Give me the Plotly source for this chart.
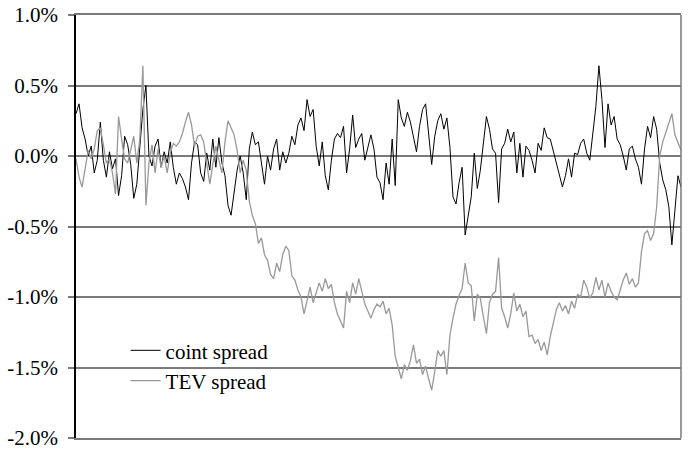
import plotly.graph_objects as go

# y-axis ticks (percent)
tick_values = [-2.0, -1.5, -1.0, -0.5, 0.0, 0.5, 1.0]
tick_labels = ["-2.0%", "-1.5%", "-1.0%", "-0.5%", "0.0%", "0.5%", "1.0%"]

# coint spread (%), left to right
coint_spread = [
    0.30, 0.37, 0.20, 0.12, 0.00, 0.07, -0.12, -0.03, 0.24, -0.03,
    -0.15, 0.03, -0.09, -0.02, -0.28, -0.14, 0.14, 0.08, -0.06, -0.30,
    -0.20, 0.05, 0.33, 0.50, 0.00, -0.07, 0.07, 0.12, -0.08, 0.03,
    -0.05, 0.10, -0.08, -0.20, -0.12, -0.16, -0.22, -0.31, -0.05, 0.10,
    0.08, -0.12, -0.18, 0.02, -0.10, 0.12, -0.08, 0.13, -0.05, -0.14,
    -0.35, -0.42, -0.26, -0.10, 0.00, -0.12, -0.31, 0.05, 0.17, 0.08,
    0.10, -0.05, -0.20, 0.00, -0.10, 0.05, 0.12, -0.10, 0.03, -0.05,
    0.02, 0.14, 0.08, 0.22, 0.27, 0.18, 0.40, 0.28, 0.33, 0.07,
    -0.07, 0.10, -0.14, -0.24, -0.03, 0.12, 0.16, 0.13, 0.21, -0.12,
    0.05, 0.29, 0.06, 0.12, 0.16, -0.03, 0.07, 0.15, 0.05, -0.15,
    -0.19, -0.31, -0.05, -0.20, 0.12, -0.21, 0.40, 0.27, 0.21, 0.31,
    0.24, 0.12, 0.03, 0.21, 0.33, 0.37, 0.16, -0.06, 0.14, 0.25,
    0.30, 0.19, 0.27, 0.06, -0.29, -0.34, -0.19, -0.08, -0.56, -0.44,
    -0.29, 0.02, -0.23, -0.10, 0.07, 0.28, 0.19, 0.05, 0.02, -0.33,
    0.05, 0.09, 0.19, 0.10, 0.17, -0.12, 0.09, -0.15, 0.07, 0.04,
    -0.03, -0.12, 0.09, 0.04, 0.20, 0.13, 0.12, 0.04, -0.05, -0.14,
    -0.22, -0.14, -0.02, -0.15, 0.02, 0.01, 0.09, 0.12, 0.02, -0.03,
    0.14, 0.35, 0.64, 0.40, 0.06, 0.37, 0.22, 0.28, 0.12, 0.08,
    0.00, -0.10, 0.05, 0.07, -0.02, -0.08, -0.20, 0.05, 0.21, 0.13,
    0.28, 0.19, -0.05, -0.17, -0.24, -0.36, -0.63, -0.38, -0.14, -0.22,
]

# TEV spread (%), left to right
tev_spread = [
    -0.02, -0.15, -0.22, -0.10, 0.04, -0.02, 0.05, 0.18, 0.20, 0.08,
    -0.05, -0.02, -0.12, -0.27, 0.28, 0.12, -0.02, -0.05, 0.05, 0.14,
    -0.05, 0.12, 0.64, -0.35, -0.05, 0.08, -0.12, 0.05, -0.08, 0.00,
    -0.12, 0.02, 0.09, 0.07, 0.10, 0.16, 0.24, 0.31, 0.22, 0.07,
    0.14, 0.15, 0.10, -0.05, -0.20, -0.06, 0.07, -0.03, -0.12, 0.10,
    0.25, 0.20, 0.15, 0.04, -0.12, -0.03, -0.10, -0.32, -0.42, -0.48,
    -0.62, -0.58, -0.70, -0.74, -0.84, -0.87, -0.76, -0.82, -0.70, -0.64,
    -0.67, -0.85, -0.88, -0.95, -1.00, -1.12, -1.03, -0.93, -1.04, -0.96,
    -0.90, -0.96, -0.87, -0.94, -0.91, -1.04, -1.12, -1.17, -1.22, -0.96,
    -1.04, -0.90, -0.98, -0.87, -0.95, -1.05, -1.10, -1.15, -1.09, -1.05,
    -1.07, -1.03, -1.12, -1.08, -1.20, -1.42, -1.50, -1.58, -1.48, -1.52,
    -1.45, -1.34, -1.47, -1.44, -1.55, -1.49, -1.58, -1.66, -1.53, -1.38,
    -1.42, -1.38, -1.55, -1.27, -1.15, -1.05, -0.99, -0.94, -0.76, -0.90,
    -0.92, -1.17, -0.98, -1.01, -1.14, -1.26, -1.04, -0.98, -0.96, -0.72,
    -1.08, -1.14, -1.22, -1.12, -0.97, -1.10, -1.05, -1.14, -1.10, -1.28,
    -1.27, -1.33, -1.30, -1.38, -1.32, -1.41, -1.28, -1.19, -1.09, -1.04,
    -1.10, -1.06, -1.12, -1.03, -1.08, -0.98, -1.00, -0.88, -0.93, -1.01,
    -0.97, -0.86, -0.95, -0.88, -1.00, -0.90, -0.96, -1.00, -1.02, -0.95,
    -0.88, -0.83, -0.91, -0.87, -0.93, -0.90, -0.68, -0.55, -0.53, -0.60,
    -0.55, -0.36, 0.00, 0.10, 0.17, 0.24, 0.30, 0.15, 0.09, 0.04,
]

series_names = ["coint spread", "TEV spread"]

FONT = "Liberation Serif"
GRID = "#7a7a7a"

idx = list(range(len(coint_spread)))

fig = go.Figure()
fig.add_trace(go.Scatter(
    x=idx, y=coint_spread, mode="lines", name=series_names[0],
    line=dict(color="#000000", width=1),
))
fig.add_trace(go.Scatter(
    x=idx, y=tev_spread, mode="lines", name=series_names[1],
    line=dict(color="#999999", width=1.3),
))

fig.update_layout(
    width=689, height=452,
    margin=dict(l=76, r=8, t=15, b=14),
    paper_bgcolor="white", plot_bgcolor="white",
    font=dict(family=FONT, size=21, color="#000000"),
    showlegend=True,
    legend=dict(
        x=0.082, y=0.171, xanchor="left", yanchor="middle",
        bgcolor="rgba(0,0,0,0)", borderwidth=0,
        font=dict(family=FONT, size=21, color="#000000"),
        itemwidth=30,
    ),
    xaxis=dict(
        range=[0, len(idx) - 1], showgrid=False, zeroline=False,
        showticklabels=False, ticks="", automargin=False,
        showline=True, linecolor=GRID, linewidth=1.5, mirror=True,
    ),
    yaxis=dict(
        range=[-2.0, 1.0], tickvals=tick_values, ticktext=tick_labels,
        showgrid=True, gridcolor=GRID, gridwidth=1.5, zeroline=False,
        showline=True, linecolor="#000000", linewidth=1.5,
        ticks="outside", ticklen=6, tickcolor=GRID, tickwidth=1.5,
        ticklabelstandoff=6, automargin=False,
    ),
    shapes=[dict(type="line", xref="paper", yref="paper",
                 x0=1, x1=1, y0=0, y1=1,
                 line=dict(color=GRID, width=1.5))],
)

fig.write_html(
    "out.html",
    config={"displayModeBar": False},
    post_script="document.body.style.margin='0';document.body.style.overflow='hidden';",
)
